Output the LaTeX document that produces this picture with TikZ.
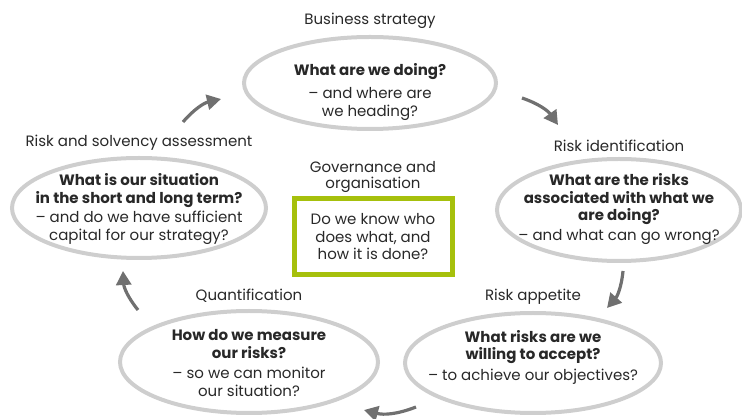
\documentclass[tikz,border=0pt]{standalone}
\usepackage{fontspec}
\setmainfont{Poppins}
\usetikzlibrary{arrows.meta, shapes.geometric, positioning}

\definecolor{ringgrey}{RGB}{206,206,206}
\definecolor{arrowgrey}{RGB}{112,112,112}
\definecolor{govgreen}{RGB}{166,192,12}
\definecolor{inkgrey}{RGB}{40,40,40}

\tikzset{
  ring/.style={ellipse, draw=ringgrey, line width=4pt, inner sep=0pt},
  question/.style={align=center, text=inkgrey, inner sep=0pt,
    font=\fontsize{15}{17.5}\selectfont},
  caption/.style={align=center, text=inkgrey, font=\fontsize{15}{16.5}\selectfont},
  govbox/.style={draw=govgreen, line width=5pt, align=center, text=inkgrey,
    minimum width=158pt, minimum height=76pt, font=\fontsize{15}{17.5}\selectfont},
  flow/.style={draw=arrowgrey, line width=3.2pt, -{Triangle[length=14pt,width=15pt]}},
}

\begin{document}
\begin{tikzpicture}[x=1pt,y=-1pt]
  \useasboundingbox (0,0) rectangle (742,419);

  % the five rings
  \node[ring, minimum width=252pt, minimum height=92pt]  (strategy) at (370,83) {};
  \node[ring, minimum width=254pt, minimum height=100pt] (solvency) at (139,208) {};
  \node[ring, minimum width=244pt, minimum height=102pt] (identify) at (619,210) {};
  \node[ring, minimum width=256pt, minimum height=100pt] (appetite) at (533,363) {};
  \node[ring, minimum width=258pt, minimum height=102pt] (quantify) at (249,362) {};

  % questions
  \node[question] (strategy-q) at (370,92)
    {\textbf{What are we doing?}\\[6pt] -- and where are\\ we heading?};
  \node[question] (solvency-q) at (139,209)
    {\textbf{What is our situation}\\ \textbf{in the short and long term?}\\[2pt]
     -- and do we have sufficient\\ capital for our strategy?};
  \node[question] (identify-q) at (619,209)
    {\textbf{What are the risks}\\ \textbf{associated with what we}\\ \textbf{are doing?}\\[2pt]
     -- and what can go wrong?};
  \node[question] (appetite-q) at (533,357)
    {\textbf{What risks are we}\\ \textbf{willing to accept?}\\[3pt]
     -- to achieve our objectives?};
  \node[question] (quantify-q) at (249,363)
    {\textbf{How do we measure}\\ \textbf{our risks?}\\[3pt]
     -- so we can monitor\\ our situation?};

  \node[govbox] (govern) at (373,237) {Do we know who\\ does what, and\\ how it is done?};

  % headings
  \node[caption, above=3pt of strategy] (strategy-cap) {Business strategy};
  \node[caption, above=2pt of solvency] (solvency-cap) {Risk and solvency assessment};
  \node[caption, above=2pt of identify] (identify-cap) {Risk identification};
  \node[caption, above=3pt of appetite] (appetite-cap) {Risk appetite};
  \node[caption, above=3pt of quantify] (quantify-cap) {Quantification};
  \node[caption, above=0pt of govern] (govern-cap) {Governance and\\ organisation};

  % cycle arrows
  \coordinate (solvency-out) at (183,122);
  \coordinate (strategy-in)  at (221,99);
  \coordinate (strategy-out) at (522,98);
  \coordinate (identify-in)  at (558,125);
  \coordinate (identify-out) at (623,271);
  \coordinate (appetite-in)  at (607,308);
  \coordinate (appetite-out) at (416,407);
  \coordinate (quantify-in)  at (364,410);
  \coordinate (quantify-out) at (138,310);
  \coordinate (solvency-in)  at (123,271);

  \foreach \s/\t in {solvency-out/strategy-in, strategy-out/identify-in,
                     identify-out/appetite-in, appetite-out/quantify-in,
                     quantify-out/solvency-in} {
    \draw[flow] (\s) to[bend left=18] (\t);
  }
\end{tikzpicture}
\end{document}
